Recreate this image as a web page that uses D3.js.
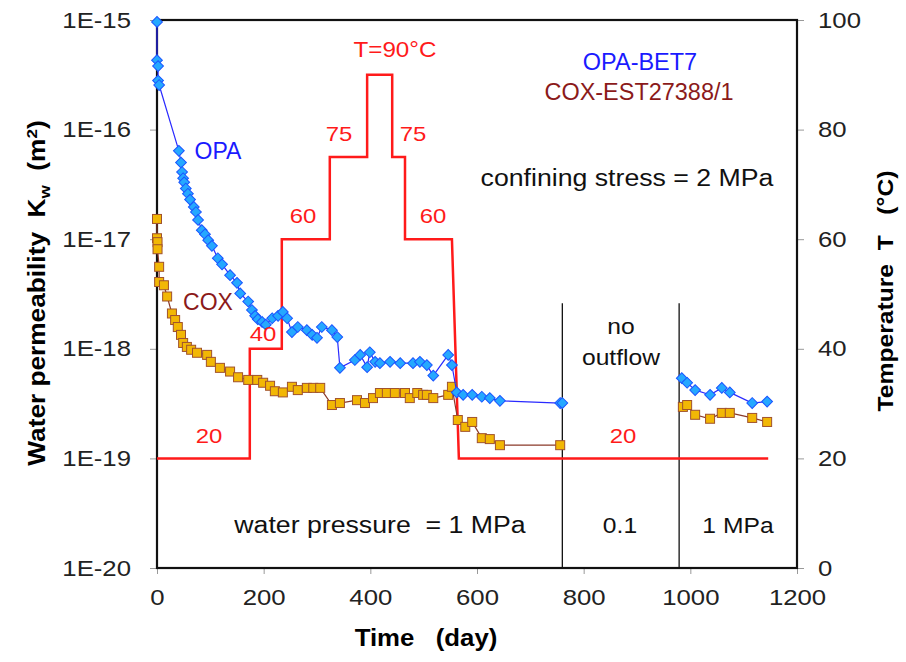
<!DOCTYPE html>
<html>
<head>
<meta charset="utf-8">
<script src="https://cdn.jsdelivr.net/npm/d3@7"></script>
<style>
  body { margin: 0; background: #fff; }
  svg text { font-family: "Liberation Sans", Arial, sans-serif; }
</style>
</head>
<body>
<div id="chart"></div>
<script>
"use strict";

// == DATA ==
// OPA-BET7 permeability [day, Kw (m2)]
var opaData = [
  [0, 9.6e-16], [0, 4.3e-16], [2, 3.8e-16], [2, 2.8e-16], [4, 2.55e-16],
  [41, 6.4e-17], [45, 5.0e-17], [47, 4.1e-17], [49, 3.6e-17], [51, 3.3e-17],
  [54, 2.9e-17], [58, 2.6e-17], [62, 2.3e-17], [69, 1.97e-17], [73, 1.77e-17],
  [77, 1.5e-17], [84, 1.21e-17], [90, 1.11e-17], [96, 9.8e-18], [103, 8.7e-18],
  [114, 6.7e-18], [122, 5.9e-18], [137, 4.7e-18], [150, 4.0e-18], [156, 3.2e-18],
  [171, 2.7e-18], [178, 2.26e-18], [184, 2.0e-18], [189, 1.86e-18], [197, 1.76e-18],
  [204, 1.66e-18], [216, 1.9e-18], [227, 2.0e-18], [236, 2.17e-18], [244, 1.9e-18],
  [253, 1.42e-18], [264, 1.58e-18], [281, 1.48e-18], [291, 1.34e-18], [300, 1.26e-18],
  [309, 1.58e-18], [328, 1.48e-18], [338, 1.28e-18], [343, 6.7e-19], [371, 7.9e-19],
  [381, 8.8e-19], [394, 6.8e-19], [399, 9.3e-19], [409, 7.6e-19], [418, 7.4e-19],
  [437, 7.6e-19], [456, 7.4e-19], [480, 7.4e-19], [493, 7.6e-19], [506, 7.1e-19],
  [518, 5.7e-19], [546, 8.8e-19], [553, 7.1e-19], [562, 4.0e-19], [574, 3.8e-19],
  [591, 3.8e-19], [609, 3.65e-19], [624, 3.55e-19], [643, 3.35e-19], [756, 3.2e-19],
  [760, 3.2e-19]
];
var opaData2 = [
  [984, 5.4e-19], [994, 4.9e-19], [1009, 4.2e-19], [1037, 3.8e-19], [1059, 4.4e-19],
  [1074, 4.0e-19], [1116, 3.2e-19], [1144, 3.3e-19]
];

// COX-EST27388/1 permeability [day, Kw (m2)]
var coxData = [
  [0, 1.53e-17], [0, 1.02e-17], [1, 9.4e-18], [1, 8.1e-18], [4, 5.6e-18],
  [4, 4.07e-18], [13, 3.8e-18], [19, 3.0e-18], [28, 2.1e-18], [34, 1.83e-18],
  [39, 1.58e-18], [45, 1.34e-18], [49, 1.13e-18], [56, 1.04e-18], [64, 9.8e-19],
  [75, 9.2e-19], [94, 8.8e-19], [101, 7.6e-19], [118, 6.7e-19], [137, 6.2e-19],
  [152, 5.5e-19], [171, 5.2e-19], [188, 5.2e-19], [199, 4.9e-19], [212, 4.6e-19],
  [221, 4.1e-19], [236, 4.0e-19], [253, 4.5e-19], [264, 4.2e-19], [281, 4.4e-19],
  [293, 4.4e-19], [306, 4.4e-19], [328, 3.07e-19], [343, 3.2e-19], [375, 3.4e-19],
  [390, 3.2e-19], [405, 3.55e-19], [418, 3.95e-19], [431, 3.95e-19], [446, 3.95e-19],
  [465, 3.95e-19], [474, 3.55e-19], [488, 3.95e-19], [499, 3.8e-19], [506, 3.8e-19],
  [518, 3.55e-19], [546, 3.8e-19], [553, 4.5e-19], [564, 2.24e-19], [578, 1.94e-19],
  [591, 2.15e-19], [609, 1.53e-19], [624, 1.5e-19], [643, 1.32e-19], [756, 1.32e-19]
];
var coxData2 = [
  [986, 2.95e-19], [994, 3.07e-19], [1009, 2.5e-19], [1037, 2.3e-19], [1059, 2.6e-19],
  [1074, 2.6e-19], [1116, 2.34e-19], [1144, 2.15e-19]
];

// temperature history [day, T (°C)]
var tempData = [
  [0, 20], [174, 20], [174, 40], [234, 40], [234, 60], [324, 60], [324, 75],
  [394, 75], [394, 90], [441, 90], [441, 75], [465, 75], [465, 60], [553, 60],
  [566, 20], [1146, 20]
];

// phase boundaries (days)
var phaseLines = [760, 979];

var xTicks = [0, 200, 400, 600, 800, 1000, 1200];
var yTicks = [1e-15, 1e-16, 1e-17, 1e-18, 1e-19, 1e-20];
var yTickLabels = ["1E-15", "1E-16", "1E-17", "1E-18", "1E-19", "1E-20"];
var tTicks = [0, 20, 40, 60, 80, 100];

// == BOILERPLATE ==
var W = 906, H = 662;
var margin = { top: 20, right: 109, bottom: 94, left: 157 },
    width = W - margin.left - margin.right,
    height = H - margin.top - margin.bottom;

var svg = d3.select("#chart")
            .append("svg")
            .attr("width", W)
            .attr("height", H);

var g = svg.append("g")
           .attr("transform", "translate(" + margin.left + "," + margin.top + ")");

var x = d3.scaleLinear().domain([0, 1200]).range([0, width]);
var y = d3.scaleLog().domain([1e-20, 1e-15]).range([height, 0]);
var yT = d3.scaleLinear().domain([0, 100]).range([height, 0]);

// the picture's text is a bit wider than the font, stretch it
function stretch(sel, k) {
  sel.each(function () {
    var L = this.getComputedTextLength();
    this.setAttribute("textLength", L * k);
    this.setAttribute("lengthAdjust", "spacingAndGlyphs");
  });
}

// axes
var xAxis = g.append("g")
  .attr("transform", "translate(0," + height + ")")
  .call(d3.axisBottom(x).tickValues(xTicks).tickSize(6).tickPadding(15)
    .tickFormat(d3.format("d")));

var yAxis = g.append("g")
  .call(d3.axisLeft(y).tickValues(yTicks).tickSize(7).tickPadding(19)
    .tickFormat(function (d, i) { return yTickLabels[i]; }));

var tAxis = g.append("g")
  .attr("transform", "translate(" + width + ",0)")
  .call(d3.axisRight(yT).tickValues(tTicks).tickSize(7).tickPadding(14));

[xAxis, yAxis, tAxis].forEach(function (a) {
  a.select(".domain").remove();
  a.selectAll(".tick line").attr("stroke", "#999");
  a.selectAll(".tick text")
    .attr("font-size", 22)
    .attr("fill", "#222")
    .style("font-family", "Liberation Sans, Arial, sans-serif");
  stretch(a.selectAll(".tick text"), 1.17);
});

// frame
g.append("rect")
  .attr("width", width).attr("height", height)
  .attr("fill", "none").attr("stroke", "#111").attr("stroke-width", 2.2);

// phase lines
g.selectAll(".phase")
  .data(phaseLines)
  .enter()
  .append("line")
  .attr("x1", function (d) { return x(d); })
  .attr("x2", function (d) { return x(d); })
  .attr("y1", y(2.6e-18))
  .attr("y2", height)
  .attr("stroke", "#111").attr("stroke-width", 1.3);

// temperature line
var lineT = d3.line()
  .x(function (d) { return x(d[0]); })
  .y(function (d) { return yT(d[1]); });

g.append("path")
  .datum(tempData)
  .attr("d", lineT)
  .attr("fill", "none")
  .attr("stroke", "#ff1a1a")
  .attr("stroke-width", 2.5);

var lineK = d3.line()
  .x(function (d) { return x(d[0]); })
  .y(function (d) { return y(d[1]); });

// COX series
[coxData, coxData2].forEach(function (ser) {
  g.append("path")
    .datum(ser)
    .attr("d", lineK)
    .attr("fill", "none")
    .attr("stroke", "#8b3a2a")
    .attr("stroke-width", 1.2);
  g.selectAll(null)
    .data(ser)
    .enter()
    .append("rect")
    .attr("x", function (d) { return x(d[0]) - 4.5; })
    .attr("y", function (d) { return y(d[1]) - 4.5; })
    .attr("width", 9).attr("height", 9)
    .attr("fill", "#f2b705")
    .attr("stroke", "#a0522d")
    .attr("stroke-width", 1);
});

// OPA series (diamonds = squares turned 45deg)
var diamond = d3.symbol().type(d3.symbolSquare).size(58);
[opaData, opaData2].forEach(function (ser) {
  g.append("path")
    .datum(ser)
    .attr("d", lineK)
    .attr("fill", "none")
    .attr("stroke", "#2a2aff")
    .attr("stroke-width", 1.2);
  g.selectAll(null)
    .data(ser)
    .enter()
    .append("path")
    .attr("d", diamond)
    .attr("transform", function (d) { return "translate(" + x(d[0]) + "," + y(d[1]) + ") rotate(45)"; })
    .attr("fill", "#25a8ff")
    .attr("stroke", "#1a55ff")
    .attr("stroke-width", 1);
});

// annotations (positions in svg px), k = horizontal stretch
var notes = [
  { t: "T=90°C", x: 395, y: 57, c: "#ff1a1a", s: 22, k: 1.1 },
  { t: "75", x: 339, y: 141, c: "#ff1a1a", s: 21, k: 1.14 },
  { t: "75", x: 413, y: 141, c: "#ff1a1a", s: 21, k: 1.14 },
  { t: "60", x: 303, y: 223, c: "#ff1a1a", s: 21, k: 1.14 },
  { t: "60", x: 433, y: 223, c: "#ff1a1a", s: 21, k: 1.14 },
  { t: "40", x: 263, y: 341, c: "#ff1a1a", s: 21, k: 1.14 },
  { t: "20", x: 209, y: 443, c: "#ff1a1a", s: 21, k: 1.14 },
  { t: "20", x: 623, y: 443, c: "#ff1a1a", s: 21, k: 1.14 },
  { t: "OPA", x: 218, y: 159, c: "#1a1aff", s: 23, k: 1 },
  { t: "COX", x: 208, y: 310, c: "#8b1a1a", s: 23, k: 1 },
  { t: "OPA-BET7", x: 640, y: 70, c: "#1a1aff", s: 23, k: 1.02 },
  { t: "COX-EST27388/1", x: 639, y: 100, c: "#8b1a1a", s: 23, k: 1.02 },
  { t: "confining stress = 2 MPa", x: 627, y: 186, c: "#111", s: 23, k: 1.16 },
  { t: "no", x: 621, y: 334, c: "#111", s: 22, k: 1.12 },
  { t: "outflow", x: 621, y: 365, c: "#111", s: 22, k: 1.12 },
  { t: "water pressure  = 1 MPa", x: 380, y: 533, c: "#111", s: 23, k: 1.16 },
  { t: "0.1", x: 620, y: 533, c: "#111", s: 22, k: 1.12 },
  { t: "1 MPa", x: 738, y: 533, c: "#111", s: 22, k: 1.12 }
];

svg.selectAll(".note")
  .data(notes)
  .enter()
  .append("text")
  .attr("class", "note")
  .attr("x", function (d) { return d.x; })
  .attr("y", function (d) { return d.y; })
  .attr("text-anchor", "middle")
  .attr("font-size", function (d) { return d.s; })
  .attr("fill", function (d) { return d.c; })
  .style("white-space", "pre")
  .text(function (d) { return d.t; })
  .each(function (d) { stretch(d3.select(this), d.k); });

// axis titles
var xl = svg.append("text")
  .attr("x", 426).attr("y", 646)
  .attr("text-anchor", "middle")
  .attr("font-size", 23).attr("font-weight", "bold")
  .style("white-space", "pre")
  .text("Time   (day)");
stretch(xl, 1.12);

var yl = svg.append("text")
  .attr("transform", "translate(45,293) rotate(-90)")
  .attr("text-anchor", "middle")
  .attr("font-size", 23).attr("font-weight", "bold")
  .style("white-space", "pre");
yl.append("tspan").text("Water permeability  K");
yl.append("tspan").attr("font-size", 15).attr("dy", 5).text("w");
yl.append("tspan").attr("dy", -5).text("  (m");
yl.append("tspan").attr("font-size", 15).attr("dy", -8).text("2");
yl.append("tspan").attr("dy", 8).text(")");
stretch(yl, 1.14);

var tl = svg.append("text")
  .attr("transform", "translate(893,291) rotate(-90)")
  .attr("text-anchor", "middle")
  .attr("font-size", 22).attr("font-weight", "bold")
  .style("white-space", "pre")
  .text("Temperature  T   (°C)");
stretch(tl, 1.12);
</script>
</body>
</html>
